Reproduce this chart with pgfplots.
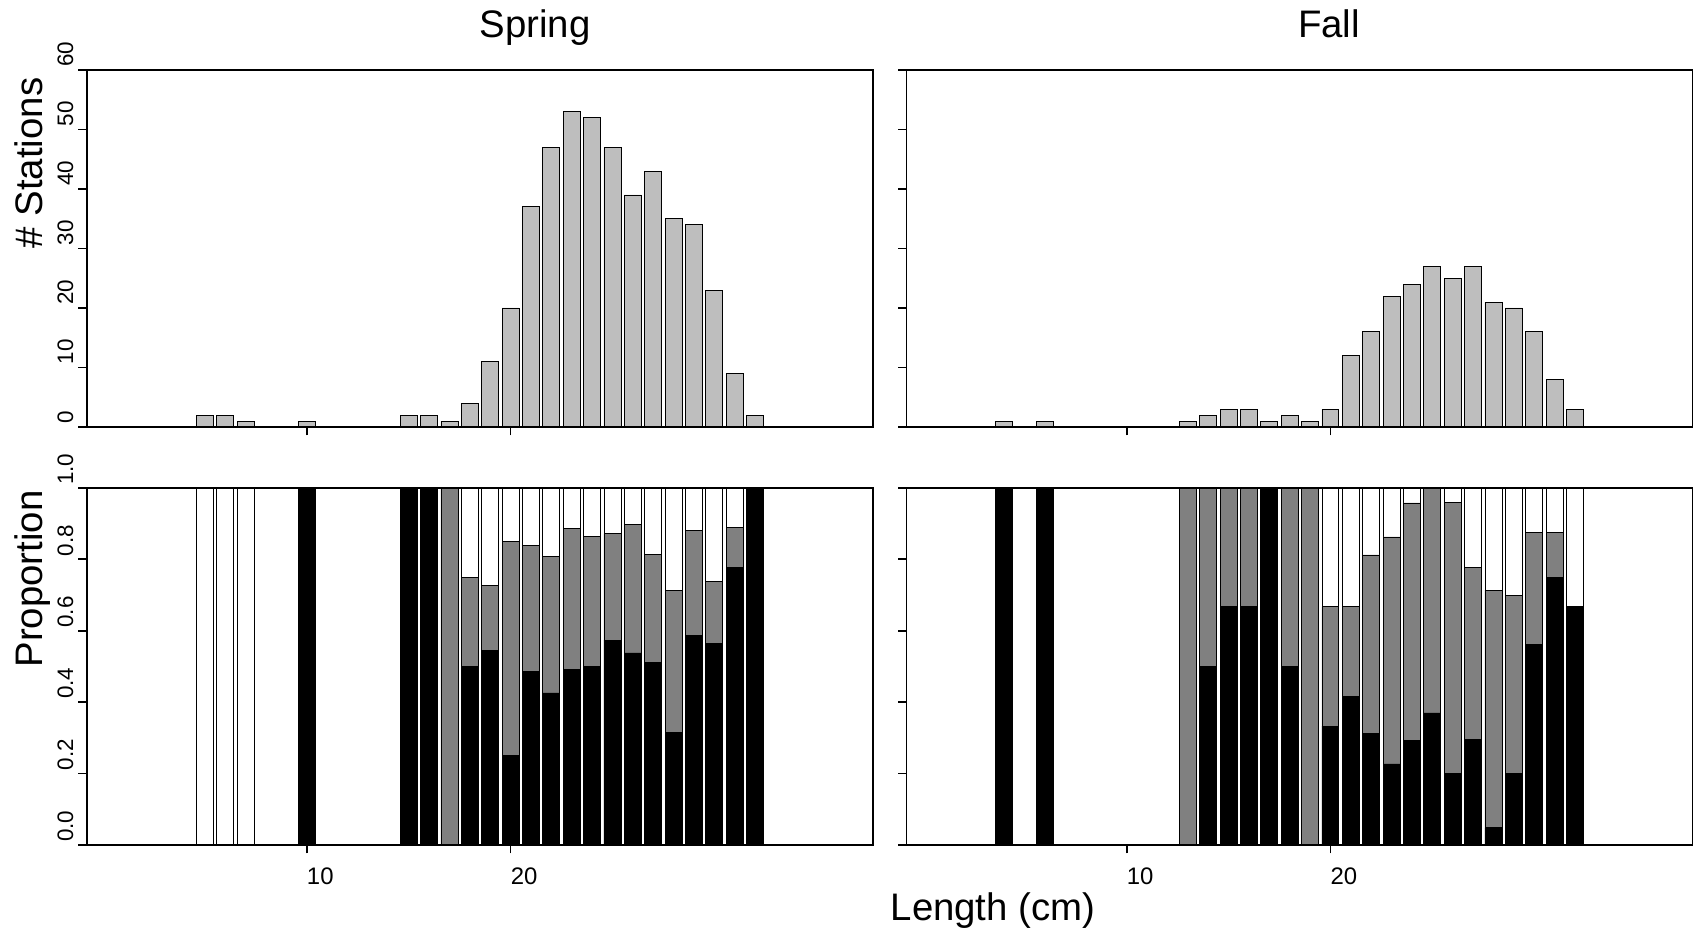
\documentclass[border=0pt]{standalone}
\usepackage{pgfplots}
\pgfplotsset{compat=1.18}
\usepackage{pgfplotstable}
\usepackage{fontspec}
\setmainfont{Liberation Sans}

\definecolor{topgray}{HTML}{BEBEBE}
\definecolor{midgray}{HTML}{808080}

% Spring: number of stations by length
\pgfplotstableread{
len n
5 2
6 2
7 1
10 1
11 0
12 0
13 0
14 0
15 2
16 2
17 1
18 4
19 11
20 20
21 37
22 47
23 53
24 52
25 47
26 39
27 43
28 35
29 34
30 23
31 9
32 2
}\springN

% Spring: proportions (black, gray, white)
\pgfplotstableread{
len b g w
5 0 0 1
6 0 0 1
7 0 0 1
10 1 0 0
11 0 0 0
12 0 0 0
13 0 0 0
14 0 0 0
15 1 0 0
16 1 0 0
17 0 1 0
18 0.5 0.25 0.25
19 0.545 0.182 0.273
20 0.25 0.60 0.15
21 0.486 0.352 0.162
22 0.426 0.383 0.191
23 0.491 0.396 0.113
24 0.5 0.365 0.135
25 0.574 0.298 0.128
26 0.538 0.359 0.103
27 0.512 0.302 0.186
28 0.314 0.400 0.286
29 0.588 0.294 0.118
30 0.565 0.174 0.261
31 0.778 0.111 0.111
32 1 0 0
}\springP

% Fall: number of stations by length
\pgfplotstableread{
len n
4 1
6 1
10 0
11 0
12 0
13 1
14 2
15 3
16 3
17 1
18 2
19 1
20 3
21 12
22 16
23 22
24 24
25 27
26 25
27 27
28 21
29 20
30 16
31 8
32 3
}\fallN

% Fall: proportions (black, gray, white)
\pgfplotstableread{
len b g w
4 1 0 0
6 1 0 0
10 0 0 0
11 0 0 0
12 0 0 0
13 0 1 0
14 0.5 0.5 0
15 0.667 0.333 0
16 0.667 0.333 0
17 1 0 0
18 0.5 0.5 0
19 0 1 0
20 0.333 0.334 0.333
21 0.417 0.25 0.333
22 0.3125 0.5 0.1875
23 0.227 0.636 0.137
24 0.292 0.666 0.042
25 0.370 0.630 0
26 0.2 0.76 0.04
27 0.296 0.482 0.222
28 0.048 0.666 0.286
29 0.2 0.5 0.3
30 0.5625 0.3125 0.125
31 0.75 0.125 0.125
32 0.667 0 0.333
}\fallP

\pgfplotsset{
  panel/.style={
    scale only axis, width=786bp, height=357bp,
    xmin=-0.8, xmax=37.77,
    axis on top,
    axis line style={line width=1.8bp},
    tick align=outside,
    major tick length=8.5bp,
    major tick style={line width=1.8bp, black},
    tick pos=left,
    xtick={10,20},
    xticklabel style={anchor=north west, inner xsep=0pt, inner ysep=14bp,
      font=\fontsize{24}{24}\selectfont},
    yticklabel style={rotate=90, anchor=south west, inner xsep=3bp, inner ysep=4.7bp,
      font=\fontsize{22.5}{22.5}\selectfont},
    bar width=0.8333,
  },
  toppanel/.style={panel, ybar, bar shift=0pt, ymin=0, ymax=60,
    ytick={0,10,20,30,40,50,60}, xticklabels={}},
  botpanel/.style={panel, ybar stacked, ymin=0, ymax=1,
    ytick={0,0.2,0.4,0.6,0.8,1}, xticklabels={10,20}},
  topbar/.style={fill=topgray, draw=black, line width=0.8bp},
  blackbar/.style={fill=black, draw=black, line width=0.8bp},
  graybar/.style={fill=midgray, draw=black, line width=0.8bp},
  whitebar/.style={fill=white, draw=black, line width=0.8bp},
}

\begin{document}
\begin{tikzpicture}[x=1bp,y=1bp]
\useasboundingbox (0,0) rectangle (1694,933);

% Spring top
\begin{axis}[toppanel, at={(86.7bp,506bp)}, anchor=south west,
  yticklabels={0,10,20,30,40,50,60}]
\addplot[topbar] table[x=len,y=n]{\springN};
\end{axis}

% Fall top
\begin{axis}[toppanel, at={(906.5bp,506bp)}, anchor=south west,
  yticklabels={}]
\addplot[topbar] table[x=len,y=n]{\fallN};
\end{axis}

% Spring bottom
\begin{axis}[botpanel, at={(86.7bp,88bp)}, anchor=south west,
  yticklabels={0.0,0.2,0.4,0.6,0.8,1.0}]
\addplot[blackbar] table[x=len,y=b]{\springP};
\addplot[graybar] table[x=len,y=g]{\springP};
\addplot[whitebar] table[x=len,y=w]{\springP};
\end{axis}

% Fall bottom
\begin{axis}[botpanel, at={(906.5bp,88bp)}, anchor=south west,
  yticklabels={}]
\addplot[blackbar] table[x=len,y=b]{\fallP};
\addplot[graybar] table[x=len,y=g]{\fallP};
\addplot[whitebar] table[x=len,y=w]{\fallP};
\end{axis}

% Titles and labels
\node[anchor=base, font=\fontsize{38.5}{38.5}\selectfont] at (535,895) {Spring};
\node[anchor=base, font=\fontsize{38.5}{38.5}\selectfont] at (1329,895) {Fall};
\node[anchor=base, font=\fontsize{38.5}{38.5}\selectfont] at (993,13) {Length (cm)};
\node[anchor=base, rotate=90, font=\fontsize{38.5}{38.5}\selectfont] at (42,770) {\# Stations};
\node[anchor=base, rotate=90, font=\fontsize{38.5}{38.5}\selectfont] at (42,354) {Proportion};
\end{tikzpicture}
\end{document}
